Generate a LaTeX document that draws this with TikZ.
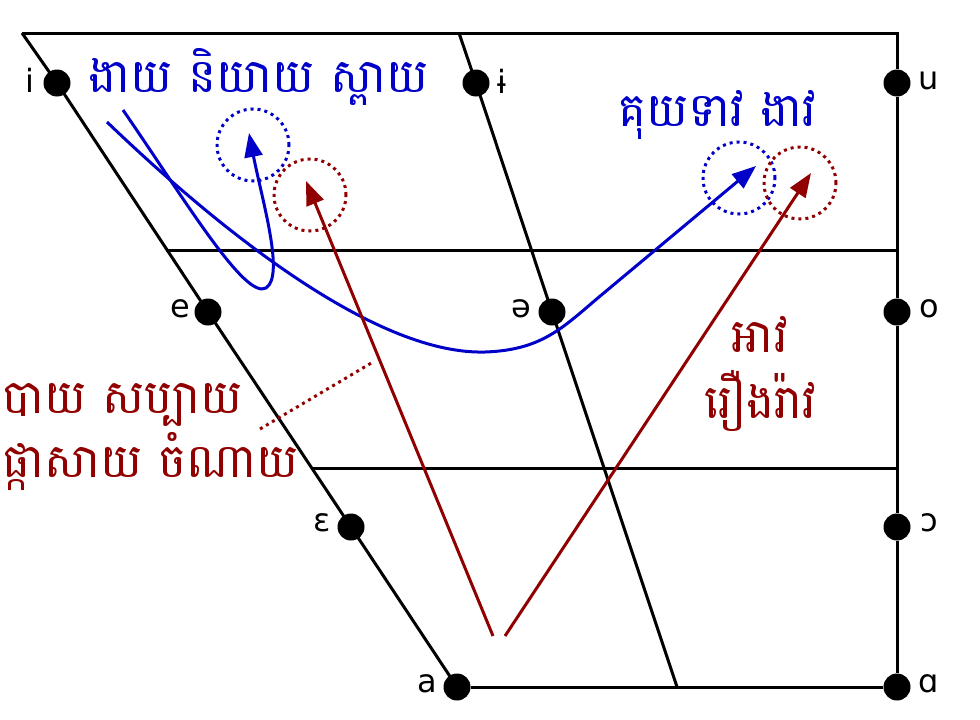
\documentclass[tikz,border=0pt]{standalone}
\usepackage{fontspec}
\setmainfont{DejaVu Sans}
\newfontfamily\khmer[Script=Khmer]{Battambang}
\usetikzlibrary{arrows.meta}
\definecolor{vblue}{RGB}{0,0,200}
\definecolor{vred}{RGB}{145,0,0}
\tikzset{
  frame/.style={draw=black, line width=3pt},
  vdot/.style={circle, fill=black, minimum size=27pt, inner sep=0pt},
  lbl/.style={font=\fontsize{32}{36}\selectfont, inner sep=0pt},
  kblue/.style={font=\khmer\fontsize{47}{54}\selectfont, text=vblue, inner sep=0pt, anchor=base west},
  kred/.style={font=\khmer\fontsize{47}{54}\selectfont, text=vred, inner sep=0pt},
  dotcirc/.style={circle, minimum size=72pt, inner sep=0pt, line width=3pt, dash pattern=on 3pt off 4pt},
  barrow/.style={draw=vblue, line width=3pt, -{Triangle[length=24pt,width=18pt]}},
  rarrow/.style={draw=vred, line width=3pt, -{Triangle[length=24pt,width=18pt]}},
  rdots/.style={draw=vred, line width=3pt, dash pattern=on 3pt off 4pt},
}
\begin{document}
\begin{tikzpicture}[x=1pt,y=-1pt]
\useasboundingbox (0,0) rectangle (980,720);
% frame coordinates
\coordinate (tl) at (22,33);
\coordinate (tr) at (897,33);
\coordinate (tc) at (459,33);
\coordinate (bc) at (677,687);
\coordinate (h1l) at (166,250);
\coordinate (h1r) at (897,250);
\coordinate (h2l) at (311,468);
\coordinate (h2r) at (897,468);
% vowel dots
\node[vdot] (di) at (57,83) {};
\node[vdot] (de) at (208,312) {};
\node[vdot] (deps) at (351,527) {};
\node[vdot] (da) at (457,687) {};
\node[vdot] (dbi) at (476,83) {};
\node[vdot] (dschwa) at (552,312) {};
\node[vdot] (du) at (897,83) {};
\node[vdot] (do) at (897,312) {};
\node[vdot] (doo) at (897,527) {};
\node[vdot] (daa) at (897,687) {};
% frame lines
\draw[frame] (tl) -- (tr) -- (du) -- (do) -- (doo) -- (daa) -- (da);
\draw[frame] (tl) -- (di.center) -- (de.center) -- (deps.center) -- (da.center);
\draw[frame] (tc) -- (dbi.center) -- (dschwa.center) -- (bc);
\draw[frame] (h1l) -- (h1r);
\draw[frame] (h2l) -- (h2r);
% vowel labels
\node[lbl] (li) at (30,80) {i};
\node[lbl] (lbi) at (502,81) {ɨ};
\node[lbl] (lu) at (929,81) {u};
\node[lbl] (le) at (180,309) {e};
\node[lbl] (lschwa) at (521,309) {ə};
\node[lbl] (lo) at (929,309) {o};
\node[lbl] (leps) at (322,523) {ɛ};
\node[lbl] (loo) at (929,523) {ɔ};
\node[lbl] (la) at (427,684) {a};
\node[lbl] (laa) at (929,684) {ɑ};
% dotted target circles
\node[dotcirc, draw=vblue] (cb1) at (253,145) {};
\node[dotcirc, draw=vred] (cr1) at (310,195) {};
\node[dotcirc, draw=vblue] (cb2) at (739,178) {};
\node[dotcirc, draw=vred] (cr2) at (800,183) {};
% blue trajectories
\coordinate (b1s) at (123,110);
\coordinate (b1m) at (266,288);
\coordinate (b1t) at (249,133);
\draw[barrow] (b1s) .. controls (185,200) and (245,300) .. (b1m) .. controls (285,276) and (262,200) .. (b1t);
\coordinate (b2s) at (107,122);
\coordinate (b2m) at (485,352);
\coordinate (b2k) at (605,292);
\coordinate (b2t) at (756,166);
\draw[barrow] (b2s) .. controls (230,240) and (380,355) .. (b2m) .. controls (545,350) and (565,325) .. (b2k) -- (b2t);
% red trajectories
\coordinate (r1s) at (493,636);
\coordinate (r1t) at (306,181);
\coordinate (r2s) at (505,636);
\coordinate (r2t) at (811,173);
\draw[rarrow] (r1s) -- (r1t);
\draw[rarrow] (r2s) -- (r2t);
% texts
\node[kblue] (tb1) at (88,92) {ងាយ និយាយ ស្ពាយ};
\node[kblue] (tb2) at (618,126) {គុយទាវ ងាវ};
\node[kred, anchor=base west] (tr1) at (2,413) {បាយ សប្បាយ};
\node[kred, anchor=base west] (tr2) at (2,477) {ផ្កាសាយ ចំណាយ};
\node[kred, anchor=base] (tr3) at (760,352) {អាវ};
\node[kred, anchor=base] (tr4) at (760,418) {រឿងរ៉ាវ};
\coordinate (rd1) at (260,429);
\coordinate (rd2) at (373,362);
\draw[rdots] (rd1) -- (rd2);
\end{tikzpicture}
\end{document}
